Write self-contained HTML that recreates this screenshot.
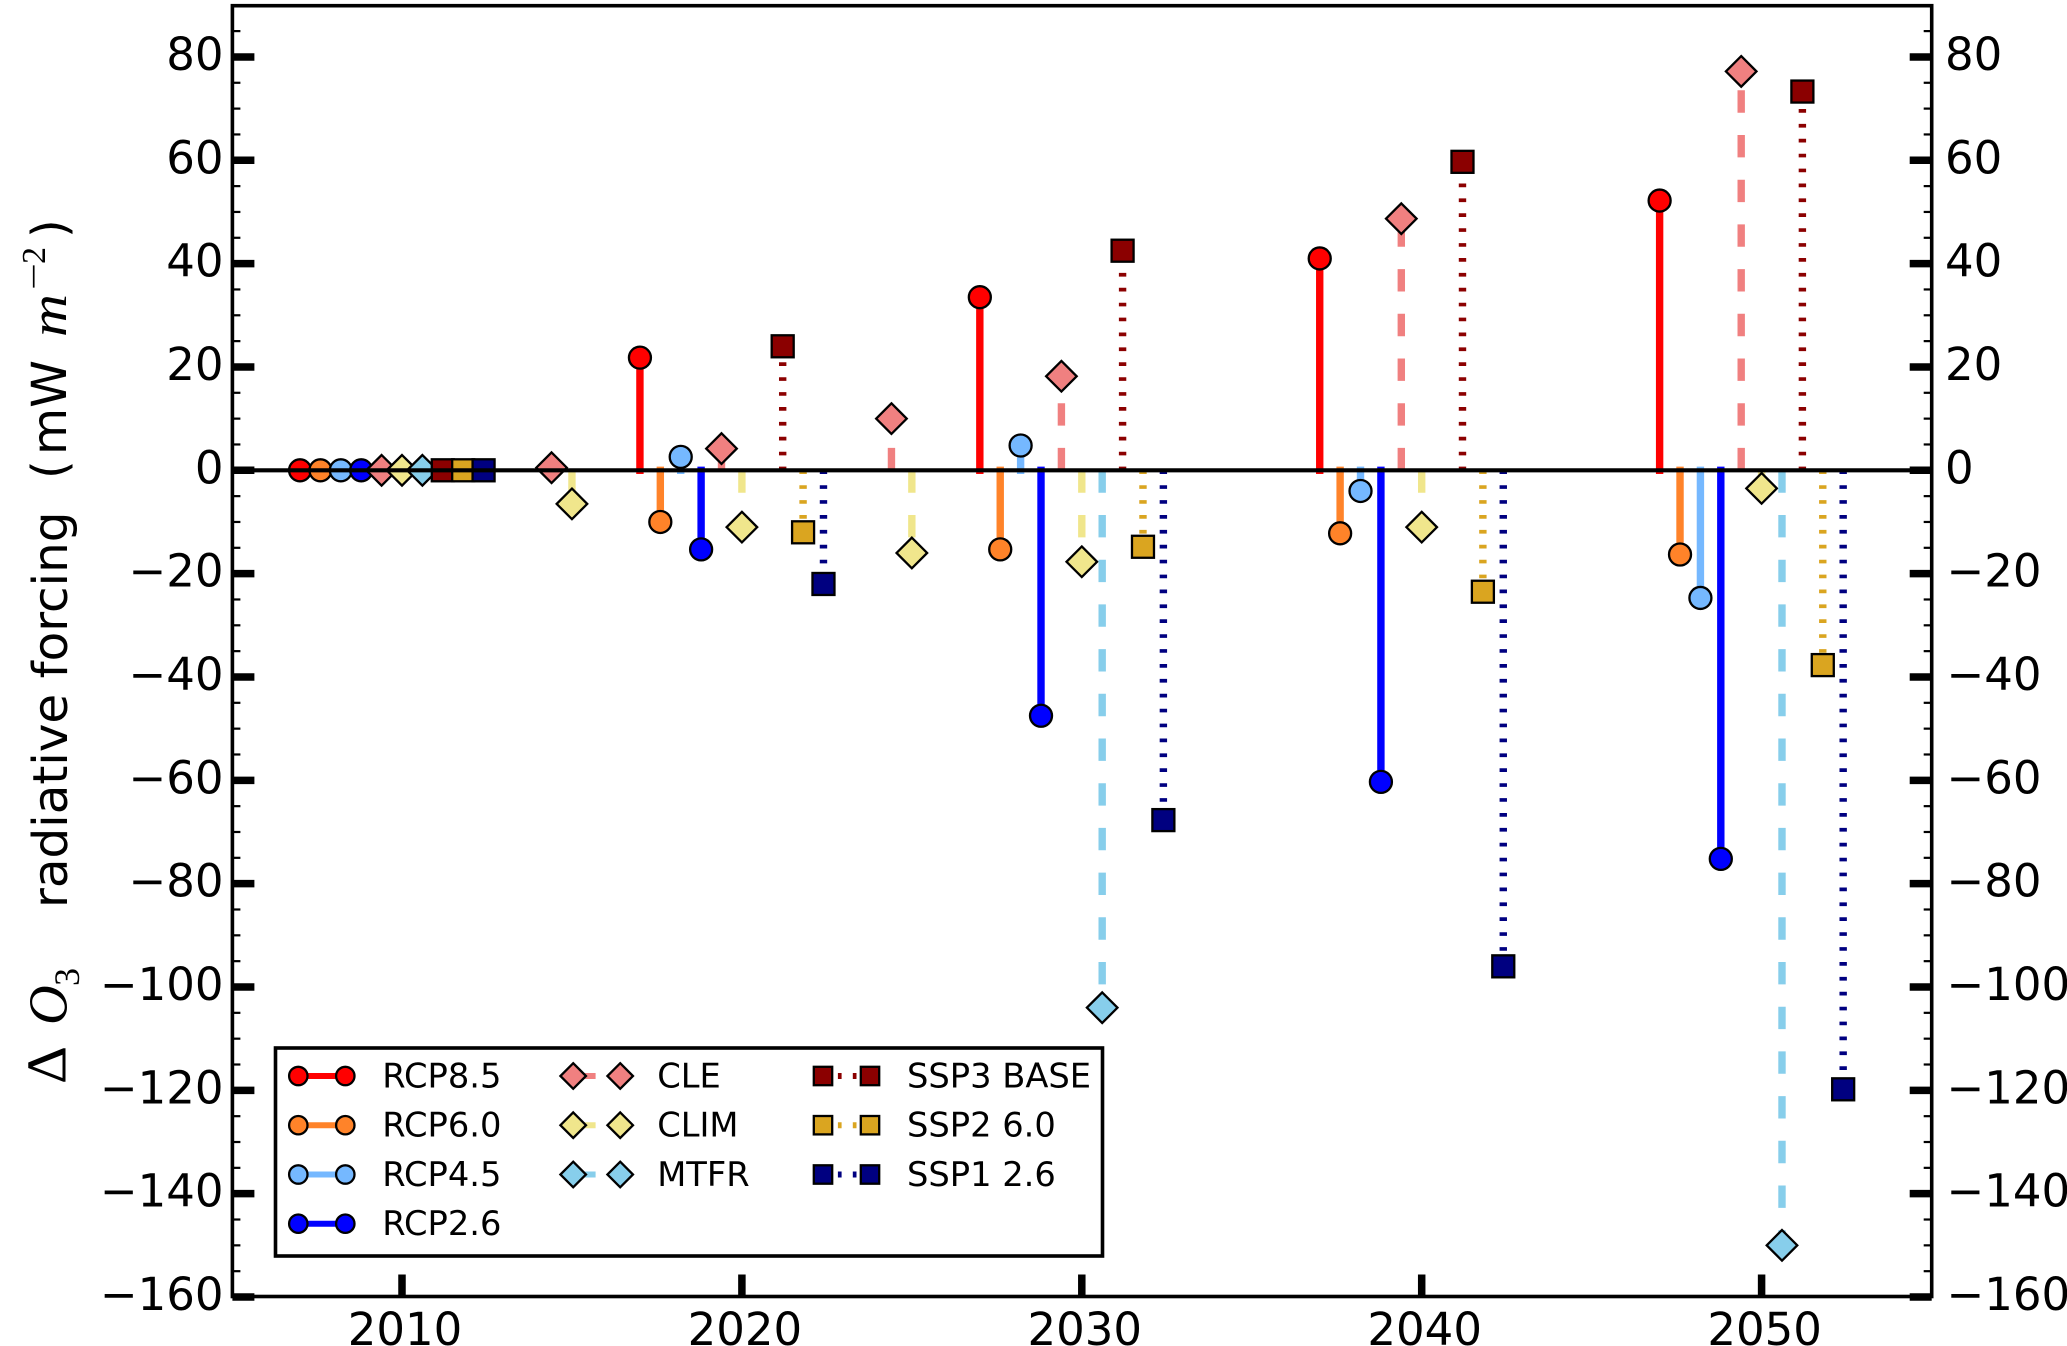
<!DOCTYPE html>
<html lang="en">
<head>
<meta charset="utf-8">
<title>Radiative forcing stem chart</title>
<style>
html,body{margin:0;padding:0;background:#fff;}
svg{display:block;}
text{font-family:"DejaVu Sans","Liberation Sans",sans-serif;fill:#000;}
.math{font-family:"Liberation Serif","DejaVu Serif",serif;}
</style>
</head>
<body>
<svg id="chart" xmlns="http://www.w3.org/2000/svg" width="2067" height="1346" viewBox="0 0 2067 1346">
  <rect x="0" y="0" width="2067" height="1346" fill="#fff"/>
  <g id="plot"></g>
  <g>
    <text class="math" transform="translate(65.5,1084) rotate(-90)" font-size="56" textLength="38" lengthAdjust="spacingAndGlyphs">Δ</text>
    <text class="math" transform="translate(66.5,1025) rotate(-90)" font-size="55" font-style="italic">O</text>
    <text class="math" transform="translate(79,986) rotate(-90)" font-size="36">3</text>
    <text transform="translate(67,908) rotate(-90)" font-size="48.4">radiative forcing</text>
    <text transform="translate(66,479) rotate(-90)" font-size="48">(</text>
    <text transform="translate(66,455) rotate(-90)" font-size="48.4">mW</text>
    <text class="math" transform="translate(66,337) rotate(-90)" font-size="52" font-style="italic" textLength="43" lengthAdjust="spacingAndGlyphs">m</text>
    <text class="math" transform="translate(45,290) rotate(-90)" font-size="34" textLength="27" lengthAdjust="spacingAndGlyphs">−</text>
    <text class="math" transform="translate(45,264) rotate(-90)" font-size="34">2</text>
    <text transform="translate(66,238) rotate(-90)" font-size="48">)</text>
  </g>
</svg>
<script>
// ---- chart data ----
const groupYears = [2010, 2015, 2020, 2025, 2030, 2040, 2050];
const rcp85Values = [0, null, 21.8, null, 33.5, 41, 52.2];
const rcp60Values = [0, null, -10, null, -15.3, -12.2, -16.3];
const rcp45Values = [0, null, 2.6, null, 4.8, -4, -24.7];
const rcp26Values = [0, null, -15.3, null, -47.5, -60.3, -75.2];
const cleValues = [0, 0.5, 4.2, 10, 18.2, 48.7, 77.2];
const climValues = [0, -6.5, -11, -16, -17.7, -11, -3.5];
const mtfrValues = [0, null, null, null, -104, null, -150];
const ssp3Values = [0, null, 24, null, 42.5, 59.7, 73.3];
const ssp2Values = [0, null, -12, null, -14.8, -23.5, -37.7];
const ssp1Values = [0, null, -22, null, -67.7, -96, -119.8];
const seriesYearOffsets = [-3, -2.4, -1.8, -1.2, -0.6, 0, 0.6, 1.2, 1.8, 2.4];
const seriesNames = ['RCP8.5', 'RCP6.0', 'RCP4.5', 'RCP2.6', 'CLE', 'CLIM', 'MTFR', 'SSP3 BASE', 'SSP2 6.0', 'SSP1 2.6'];
const xTickLabels = [2010, 2020, 2030, 2040, 2050];
const yTickLabels = [80, 60, 40, 20, 0, -20, -40, -60, -80, -100, -120, -140, -160];
const yMinorTickValues = [85, 75, 70, 65, 55, 50, 45, 35, 30, 25, 15, 10, 5, -5, -10, -15, -25, -30, -35, -45, -50, -55, -65, -70, -75, -85, -90, -95, -105, -110, -115, -125, -130, -135, -145, -150, -155];

// ---- style (not data) ----
const seriesValues = [rcp85Values, rcp60Values, rcp45Values, rcp26Values, cleValues, climValues, mtfrValues, ssp3Values, ssp2Values, ssp1Values];
const seriesColors = ['#ff0000', '#ff8329', '#75b8ff', '#0000ff', '#f08080', '#f0e68c', '#87ceeb', '#8b0000', '#daa520', '#000080'];
const seriesKinds = ['circle', 'circle', 'circle', 'circle', 'diamond', 'diamond', 'diamond', 'square', 'square', 'square'];
const seriesLines = ['solid', 'solid', 'solid', 'solid', 'dash', 'dash', 'dash', 'dot', 'dot', 'dot'];

// ---- axis functions ----
const NS = 'http://www.w3.org/2000/svg';
const plot = document.getElementById('plot');
const LEFT = 232.4, RIGHT = 1931.7, TOP = 5.7, BOTTOM = 1296.5;
function xScale(year) { return 402 + (year - 2010) * 33.99; }
function yScale(v) { return 470.3 - v * 5.167; }
function slug(s) { return s.toLowerCase().replace(/[^a-z0-9]+/g, '-'); }
function make(tag, attrs, parent) {
  const e = document.createElementNS(NS, tag);
  for (const k in attrs) e.setAttribute(k, attrs[k]);
  (parent || plot).appendChild(e);
  return e;
}
function lineDash(kind) {
  if (kind === 'dash') return '22.4 22.3';
  if (kind === 'dot') return '3.7 11.2';
  return 'none';
}
function drawLine(x1, y1, x2, y2, color, width, kind, parent) {
  return make('line', {
    x1: x1, y1: y1, x2: x2, y2: y2, stroke: color, 'stroke-width': width,
    'stroke-dasharray': lineDash(kind),
    'stroke-linecap': kind === 'solid' ? 'square' : 'butt'
  }, parent);
}
function drawMarker(kind, cx, cy, color, r, parent) {
  const sw = 2.3;
  if (kind === 'circle') {
    return make('circle', { cx: cx, cy: cy, r: r, fill: color, stroke: '#000', 'stroke-width': sw }, parent);
  }
  if (kind === 'diamond') {
    const d = r * 1.39;
    const pts = [cx, cy - d, cx + d, cy, cx, cy + d, cx - d, cy].join(' ');
    return make('polygon', { points: pts, fill: color, stroke: '#000', 'stroke-width': sw, 'stroke-linejoin': 'miter' }, parent);
  }
  return make('rect', { x: cx - r, y: cy - r, width: 2 * r, height: 2 * r, fill: color, stroke: '#000', 'stroke-width': sw }, parent);
}

// ---- series: stems and markers ----
seriesNames.forEach(function (name, s) {
  const g = make('g', {});
  
  
  seriesValues[s].forEach(function (v, i) {
    if (v === null || v === undefined) return;
    const x = xScale(groupYears[i] + seriesYearOffsets[s]);
    const stem = drawLine(x, yScale(0), x, yScale(v), seriesColors[s], 7.4, seriesLines[s], g);
    
    
    const marker = drawMarker(seriesKinds[s], x, yScale(v), seriesColors[s], 11, g);
    
    
  });
});

// ---- zero line ----
const zeroLine = make('line', { x1: LEFT, y1: yScale(0), x2: RIGHT, y2: yScale(0), stroke: '#000', 'stroke-width': 4.2 });



// ---- y ticks ----
yTickLabels.forEach(function (v) {
  const y = yScale(v);
  const tl = make('line', { x1: LEFT, y1: y, x2: LEFT + 22, y2: y, stroke: '#000', 'stroke-width': 7.5 });
  
  
  const tr = make('line', { x1: RIGHT - 22, y1: y, x2: RIGHT, y2: y, stroke: '#000', 'stroke-width': 7.5 });
  
  
  const label = String(Math.abs(v));
  const text = (v < 0 ? '\u2212' : '') + label;
  const ll = make('text', { x: 223.5, y: y + 13, 'font-size': 45, 'text-anchor': 'end' });
  ll.textContent = text;
  
  
  const lr = make('text', { x: v < 0 ? 1946.5 : 1945, y: y + 13, 'font-size': 45 });
  lr.textContent = text;
  
  
});
yMinorTickValues.forEach(function (v) {
  const y = yScale(v);
  const ml = make('line', { x1: LEFT, y1: y, x2: LEFT + 8, y2: y, stroke: '#000', 'stroke-width': 2.2 });
  
  
  const mr = make('line', { x1: RIGHT - 8, y1: y, x2: RIGHT, y2: y, stroke: '#000', 'stroke-width': 2.2 });
  
  
});

// ---- x ticks ----
xTickLabels.forEach(function (t) {
  const x = xScale(t);
  const tick = make('line', { x1: x, y1: BOTTOM, x2: x, y2: BOTTOM - 22, stroke: '#000', 'stroke-width': 7.5 });
  
  
  const lab = make('text', { x: x + 3, y: 1345, 'font-size': 45, 'text-anchor': 'middle' });
  lab.textContent = String(t);
  
  
});

// ---- spines ----
const frame = make('rect', { x: LEFT, y: TOP, width: RIGHT - LEFT, height: BOTTOM - TOP, fill: 'none', stroke: '#000', 'stroke-width': 3.6 });



// ---- legend ----
const legend = make('g', {});


const legendBox = make('rect', { x: 275.5, y: 1048, width: 827, height: 208, fill: '#fff', stroke: '#000', 'stroke-width': 3.6 }, legend);


const legendColumns = [298.3, 573.2, 823];
const legendRows = [1076, 1125.2, 1174.5, 1223.7];
const legendSlots = [[0, 0], [0, 1], [0, 2], [0, 3], [1, 0], [1, 1], [1, 2], [2, 0], [2, 1], [2, 2]];
seriesNames.forEach(function (name, s) {
  const cx = legendColumns[legendSlots[s][0]];
  const cy = legendRows[legendSlots[s][1]];
  const entry = make('g', {}, legend);
  
  
  const key = drawLine(cx, cy, cx + 47, cy, seriesColors[s], 6, seriesLines[s], entry);
  key.setAttribute('stroke-linecap', 'butt');
  
  
  const m1 = drawMarker(seriesKinds[s], cx, cy, seriesColors[s], 9.2, entry);
  
  
  const m2 = drawMarker(seriesKinds[s], cx + 47, cy, seriesColors[s], 9.2, entry);
  
  
  const txt = make('text', { x: cx + 84, y: cy + 11.5, 'font-size': 33.7 }, entry);
  txt.textContent = name;
  
  
});
</script>
</body>
</html>
